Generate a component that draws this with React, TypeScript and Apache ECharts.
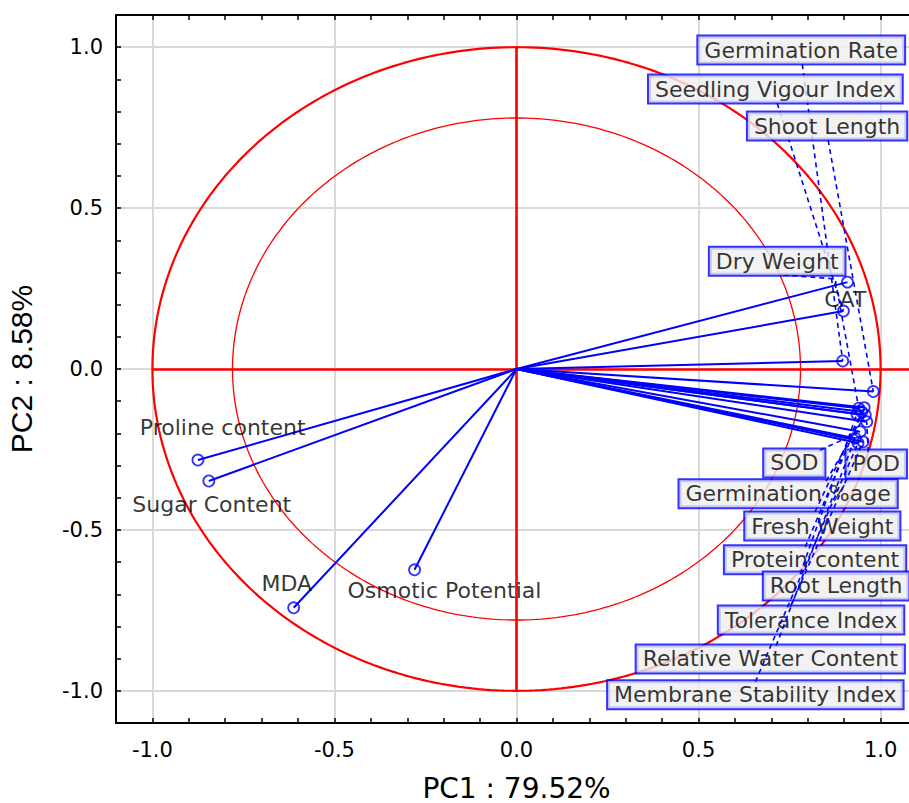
import React, { useEffect, useRef } from "react";
import * as echarts from "echarts";

// PCA correlation loadings of the measured traits on the first two components
const VARIABLES = [
  "Germination Rate",
  "Seedling Vigour Index",
  "Shoot Length",
  "Dry Weight",
  "CAT",
  "SOD",
  "POD",
  "Germination %age",
  "Fresh Weight",
  "Protein content",
  "Root Length",
  "Tolerance Index",
  "Relative Water Content",
  "Membrane Stability Index",
  "Proline content",
  "Sugar Content",
  "MDA",
  "Osmotic Potential",
];
const PC1 = [
  0.896, 0.898, 0.98, 0.94, 0.909, 0.944, 0.962, 0.958, 0.948, 0.955, 0.935,
  0.952, 0.93, 0.938, -0.875, -0.845, -0.612, -0.28,
];
const PC2 = [
  0.025, 0.18, -0.07, -0.122, 0.27, -0.195, -0.164, -0.143, -0.133, -0.12,
  -0.14, -0.226, -0.215, -0.23, -0.283, -0.348, -0.742, -0.624,
];

const PC1_NAME = "PC1 : 79.52%";
const PC2_NAME = "PC2 : 8.58%";

// Reference circles (correlation radius 1 and inner ring)
const OUTER_RADIUS = 1;
const INNER_RADIUS = 0.78;
const GRID_VALUES = [-1, -0.5, 0, 0.5, 1];

// Label placement in loading coordinates: label centre, boxed or plain, leader path start
type Placement = {
  at: [number, number];
  boxed: boolean;
  leader?: [number, number][];
  above?: boolean;
};
const PLACEMENT: Record<string, Placement> = {
  "Germination Rate": { at: [0.782, 0.991], boxed: true, leader: [[0.785, 0.947]] },
  "Seedling Vigour Index": { at: [0.711, 0.87], boxed: true, leader: [[0.716, 0.826]] },
  "Shoot Length": { at: [0.853, 0.755], boxed: true, leader: [[0.856, 0.711]] },
  "Dry Weight": {
    at: [0.716, 0.335],
    boxed: true,
    leader: [
      [0.733, 0.292],
      [0.875, 0.28],
    ],
  },
  CAT: { at: [0.903, 0.217], boxed: false },
  SOD: { at: [0.763, -0.292], boxed: true, leader: [[0.834, -0.252]], above: true },
  POD: { at: [0.988, -0.295], boxed: true, leader: [[0.966, -0.258]], above: true },
  "Germination %age": { at: [0.746, -0.388], boxed: true, leader: [[0.85, -0.348]], above: true },
  "Fresh Weight": { at: [0.84, -0.488], boxed: true, leader: [[0.82, -0.444]], above: true },
  "Protein content": { at: [0.82, -0.593], boxed: true, leader: [[0.793, -0.553]], above: true },
  "Root Length": { at: [0.878, -0.674], boxed: true, leader: [[0.779, -0.637]], above: true },
  "Tolerance Index": { at: [0.809, -0.78], boxed: true, leader: [[0.752, -0.739]], above: true },
  "Relative Water Content": { at: [0.697, -0.901], boxed: true, leader: [[0.713, -0.86]], above: true },
  "Membrane Stability Index": { at: [0.656, -1.012], boxed: true, leader: [[0.656, -0.972]], above: true },
  "Proline content": { at: [-0.807, -0.183], boxed: false },
  "Sugar Content": { at: [-0.837, -0.422], boxed: false },
  MDA: { at: [-0.631, -0.665], boxed: false },
  "Osmotic Potential": { at: [-0.198, -0.689], boxed: false },
};

const FONT = '"DejaVu Sans", "Liberation Sans", sans-serif';
const BLUE = "#0000ff";
const RED = "#ff0000";

function circlePoints(r: number): [number, number][] {
  const pts: [number, number][] = [];
  for (let i = 0; i <= 360; i++) {
    const a = (i * Math.PI) / 180;
    pts.push([r * Math.cos(a), r * Math.sin(a)]);
  }
  return pts;
}

function tickLabel(v: number): string {
  const r = Math.round(v * 10);
  return r % 5 === 0 ? (r / 10).toFixed(1) : "";
}

function buildOption(): echarts.EChartsCoreOption {
  const vectors = VARIABLES.map((_, i) => ({
    coords: [
      [0, 0],
      [PC1[i], PC2[i]],
    ],
  }));
  const ends = VARIABLES.map((_, i) => [PC1[i], PC2[i]]);

  const upperLeaders: any[] = [];
  const lowerLeaders: any[] = [];
  const boxed: any[] = [];
  const plain: any[] = [];
  VARIABLES.forEach((name, i) => {
    const p = PLACEMENT[name];
    if (p.boxed) boxed.push([p.at[0], p.at[1], name]);
    else plain.push([p.at[0], p.at[1], name]);
    if (p.leader) {
      const item = { coords: [...p.leader, [PC1[i], PC2[i]]] };
      (p.above ? lowerLeaders : upperLeaders).push(item);
    }
  });

  const axisCommon = {
    type: "value",
    min: -1.1,
    max: 1.1,
    interval: 0.1,
    splitLine: { show: false },
    axisLine: { show: true, onZero: false, lineStyle: { color: "#000", width: 2 } },
    axisTick: { show: true, inside: true, length: 5, lineStyle: { color: "#000", width: 1.5 } },
  };

  const leaderStyle = { color: BLUE, width: 1.6, type: [5, 4] as any };

  return {
    animation: false,
    backgroundColor: "#fff",
    grid: {
      left: 116,
      top: 15,
      width: 801,
      height: 708,
      containLabel: false,
      outerBoundsMode: "none",
    },
    xAxis: [
      {
        ...axisCommon,
        position: "bottom",
        name: PC1_NAME,
        nameLocation: "middle",
        nameGap: 51,
        nameTextStyle: { fontFamily: FONT, fontSize: 28, lineHeight: 28, color: "#000" },
        axisLabel: {
          formatter: tickLabel,
          fontFamily: FONT,
          fontSize: 21,
          color: "#000",
          margin: 16,
        },
      },
      {
        ...axisCommon,
        position: "top",
        axisLabel: { show: false },
      },
    ],
    yAxis: [
      {
        ...axisCommon,
        position: "left",
        name: PC2_NAME,
        nameLocation: "middle",
        nameRotate: 90,
        nameGap: 80,
        nameTextStyle: { fontFamily: '"Liberation Sans", Arial, sans-serif', fontSize: 30, color: "#000" },
        axisLabel: {
          formatter: tickLabel,
          fontFamily: FONT,
          fontSize: 21,
          color: "#000",
          margin: 13,
        },
      },
      {
        ...axisCommon,
        position: "right",
        axisLabel: { show: false },
      },
    ],
    series: [
      {
        type: "line",
        data: [],
        z: 1,
        silent: true,
        markLine: {
          silent: true,
          z: 0,
          symbol: ["none", "none"],
          label: { show: false },
          lineStyle: { color: "#d9d9d9", width: 2, type: "solid" },
          data: [
            ...GRID_VALUES.map((v) => ({ xAxis: v })),
            ...GRID_VALUES.map((v) => ({ yAxis: v })),
          ],
        },
      },
      {
        type: "line",
        data: circlePoints(OUTER_RADIUS),
        showSymbol: false,
        symbol: "none",
        z: 2,
        silent: true,
        lineStyle: { color: RED, width: 2.2 },
      },
      {
        type: "line",
        data: circlePoints(INNER_RADIUS),
        showSymbol: false,
        symbol: "none",
        z: 2,
        silent: true,
        lineStyle: { color: RED, width: 1.3 },
      },
      {
        type: "lines",
        coordinateSystem: "cartesian2d",
        z: 3,
        silent: true,
        lineStyle: { color: RED, width: 2.6, opacity: 1 },
        data: [
          { coords: [[-OUTER_RADIUS, 0], [1.1, 0]] },
          { coords: [[0, -OUTER_RADIUS], [0, OUTER_RADIUS]] },
        ],
      },
      {
        type: "lines",
        coordinateSystem: "cartesian2d",
        z: 4,
        silent: true,
        lineStyle: { color: BLUE, width: 2, opacity: 1 },
        data: vectors,
      },
      {
        type: "scatter",
        data: ends,
        z: 5,
        silent: true,
        symbol: "circle",
        symbolSize: 11,
        itemStyle: { color: "rgba(0,0,0,0)", borderColor: BLUE, borderWidth: 1.8 },
      },
      {
        type: "lines",
        coordinateSystem: "cartesian2d",
        polyline: true,
        z: 6,
        silent: true,
        lineStyle: { ...leaderStyle, opacity: 1 },
        data: upperLeaders,
      },
      {
        type: "scatter",
        data: boxed,
        z: 7,
        silent: true,
        symbolSize: 1,
        itemStyle: { color: "rgba(0,0,0,0)" },
        label: {
          show: true,
          position: "inside",
          formatter: (p: any) => p.data[2],
          fontFamily: FONT,
          fontSize: 22,
          lineHeight: 22,
          color: "#000",
          backgroundColor: "#efefef",
          borderColor: BLUE,
          borderWidth: 2,
          padding: [3, 6, 2, 6],
        },
      },
      {
        type: "scatter",
        data: plain,
        z: 7,
        silent: true,
        symbolSize: 1,
        itemStyle: { color: "rgba(0,0,0,0)" },
        label: {
          show: true,
          position: "inside",
          formatter: (p: any) => p.data[2],
          fontFamily: FONT,
          fontSize: 22,
          color: "#000",
        },
      },
      {
        type: "lines",
        coordinateSystem: "cartesian2d",
        polyline: true,
        z: 8,
        silent: true,
        lineStyle: { ...leaderStyle, opacity: 1 },
        data: lowerLeaders,
      },
    ],
  };
}

export default function App() {
  const ref = useRef<HTMLDivElement>(null);
  useEffect(() => {
    if (!ref.current) return;
    const chart = echarts.init(ref.current, undefined, { renderer: "svg" });
    chart.setOption(buildOption());
    return () => chart.dispose();
  }, []);
  return (
    <div
      ref={ref}
      style={{ position: "fixed", left: 0, top: 0, width: 940, height: 803 }}
    />
  );
}
